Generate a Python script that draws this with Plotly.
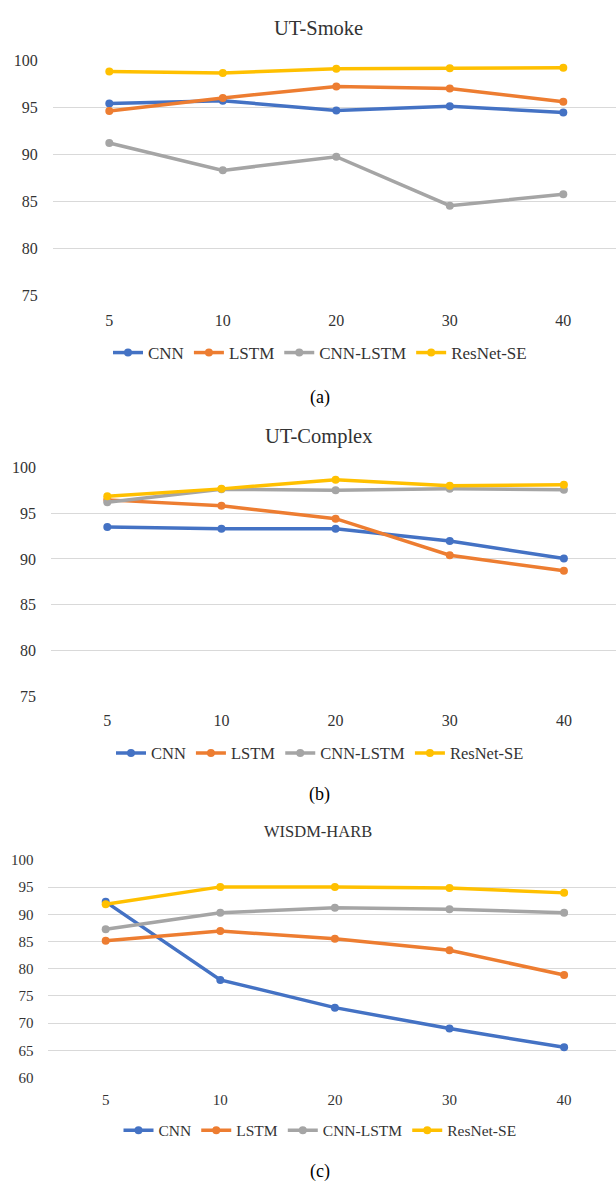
import plotly.graph_objects as go

# ---- data ----
x_labels = ["5", "10", "20", "30", "40"]
series_names = ["CNN", "LSTM", "CNN-LSTM", "ResNet-SE"]
colors = ["#4472C4", "#ED7D31", "#A5A5A5", "#FFC000"]

smoke_cnn = [95.4, 95.7, 94.65, 95.1, 94.45]
smoke_lstm = [94.6, 96.0, 97.2, 97.0, 95.6]
smoke_cnnlstm = [91.2, 88.3, 89.75, 84.55, 85.75]
smoke_resnet = [98.8, 98.65, 99.1, 99.15, 99.2]

complex_cnn = [93.5, 93.3, 93.3, 91.95, 90.05]
complex_lstm = [96.45, 95.8, 94.4, 90.4, 88.7]
complex_cnnlstm = [96.2, 97.6, 97.5, 97.65, 97.55]
complex_resnet = [96.85, 97.65, 98.65, 98.0, 98.1]

wisdm_cnn = [92.3, 77.95, 72.85, 69.0, 65.55]
wisdm_lstm = [85.15, 86.95, 85.5, 83.4, 78.85]
wisdm_cnnlstm = [87.25, 90.3, 91.2, 90.95, 90.3]
wisdm_resnet = [91.85, 95.05, 95.05, 94.85, 93.95]

titles = ["UT-Smoke", "UT-Complex", "WISDM-HARB"]
captions = ["(a)", "(b)", "(c)"]

panels = [
    [smoke_cnn, smoke_lstm, smoke_cnnlstm, smoke_resnet],
    [complex_cnn, complex_lstm, complex_cnnlstm, complex_resnet],
    [wisdm_cnn, wisdm_lstm, wisdm_cnnlstm, wisdm_resnet],
]

W, H = 616, 1192
FONT = "Liberation Serif"
TXT = "#333333"


def py(p):
    return 1 - p / H


# layout geometry (pixels)
geo = [
    dict(top=53, bottom=291.7, left=52.7, x0=109.3, dx=113.5, yr=[75, 100],
         title_y=20, title_size=20.5, tick_size=16, xstand=13, leg_y=350, leg_size=17, cap_y=395),
    dict(top=466, bottom=698.3, left=51, x0=107.3, dx=114.15, yr=[75, 100],
         title_y=435, title_size=20.5, tick_size=16, xstand=13, leg_y=756, leg_size=16.5, cap_y=798),
    dict(top=864.3, bottom=1085, left=48.4, x0=105.7, dx=114.6, yr=[60, 100],
         title_y=835.7, title_size=16.5, tick_size=15, xstand=11, leg_y=1139, leg_size=15.5, cap_y=1180),
]

fig = go.Figure()
annotations = []

for i, (vals, g) in enumerate(zip(panels, geo)):
    xa = "x" if i == 0 else f"x{i+1}"
    ya = "y" if i == 0 else f"y{i+1}"
    leg = "legend" if i == 0 else f"legend{i+1}"
    for name, col, v in zip(series_names, colors, vals):
        fig.add_trace(go.Scatter(
            x=x_labels, y=v, name=name, mode="lines+markers",
            line=dict(color=col, width=3.5),
            marker=dict(color=col, size=8),
            xaxis=xa, yaxis=ya, legend=leg,
        ))
    left_idx = (g["left"] - g["x0"]) / g["dx"]
    right_idx = (W - g["x0"]) / g["dx"]
    xkey = "xaxis" if i == 0 else f"xaxis{i+1}"
    ykey = "yaxis" if i == 0 else f"yaxis{i+1}"
    fig.update_layout(**{
        xkey: dict(domain=[g["left"] / W, 1], anchor=ya, type="category",
                   range=[left_idx, right_idx], showgrid=False, zeroline=False,
                   showline=False, ticks="", ticklabelstandoff=g["xstand"],
                   tickfont=dict(family=FONT, size=g["tick_size"], color=TXT)),
        ykey: dict(domain=[py(g["bottom"]), py(g["top"])], anchor=xa,
                   range=g["yr"], dtick=5, showgrid=True, gridcolor="#D9D9D9",
                   gridwidth=1, zeroline=False, showline=False, ticks="",
                   ticklabelstandoff=14,
                   tickfont=dict(family=FONT, size=g["tick_size"], color=TXT)),
        leg: dict(orientation="h", x=320 / W, xanchor="center", y=py(g["leg_y"]),
                  yanchor="middle", font=dict(family=FONT, size=g["leg_size"], color=TXT),
                  bgcolor="rgba(0,0,0,0)", itemwidth=30, tracegroupgap=0),
    })
    annotations.append(dict(text=titles[i], x=318 / W, y=py(g["title_y"]), xref="paper",
                            yref="paper", showarrow=False, xanchor="center", yanchor="middle",
                            font=dict(family=FONT, size=g["title_size"], color=TXT)))
    annotations.append(dict(text=captions[i], x=320 / W, y=py(g["cap_y"]), xref="paper",
                            yref="paper", showarrow=False, xanchor="center", yanchor="middle",
                            font=dict(family=FONT, size=18, color="black")))

fig.update_layout(width=W, height=H, margin=dict(l=0, r=0, t=0, b=0),
                  paper_bgcolor="white", plot_bgcolor="white",
                  annotations=annotations, showlegend=True)

fig.write_html("out.html", config={"displayModeBar": False},
               post_script="document.body.style.margin='0px';")
